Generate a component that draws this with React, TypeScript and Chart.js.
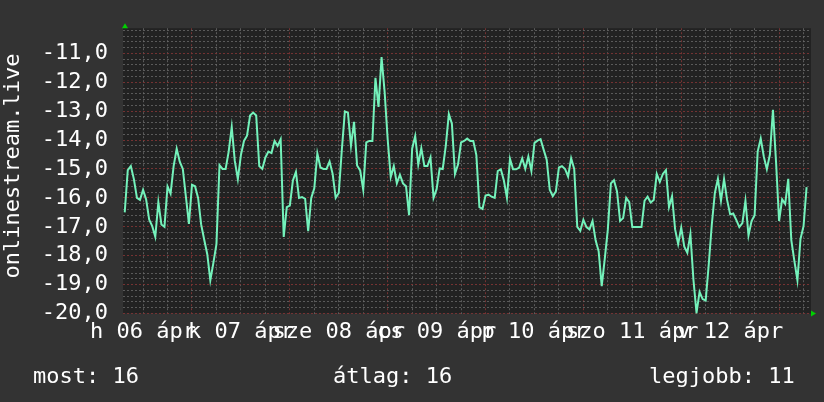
import React, { useEffect, useRef } from 'react';
import { Chart, registerables } from 'chart.js';

Chart.register(...registerables);

// Time axis in hours since Apr 06 00:00; one sample every 45 minutes
const startHour = 7.5;
const stepHours = 0.75;
const axisStartHour = 7.08;
const axisEndHour = 175.83;

// onlinestream.live values
const values: number[] = [
  -16.5, -15.04, -14.9, -15.35, -16.0, -16.07, -15.72, -16.05, -16.75, -16.98,
  -17.35, -16.15, -16.92, -17.0, -15.6, -15.85, -14.9, -14.3, -14.75, -15.0,
  -15.95, -16.9, -15.55, -15.6, -16.0, -16.92, -17.45, -17.95, -18.85, -18.25,
  -17.6, -14.87, -15.0, -15.0, -14.4, -13.55, -14.72, -15.35, -14.52, -14.03,
  -13.85, -13.15, -13.05, -13.15, -14.9, -15.0, -14.6, -14.4, -14.45, -14.03,
  -14.2, -13.97, -17.35, -16.32, -16.27, -15.4, -15.1, -16.0, -15.97, -16.03,
  -17.15, -16.0, -15.67, -14.46, -14.95, -15.0, -15.0, -14.74, -15.17, -16.0,
  -15.83, -14.35, -13.01, -13.05, -14.2, -13.37, -14.88, -15.05, -15.72, -14.08,
  -14.03, -14.03, -11.85, -12.85, -11.13, -12.33, -13.97, -15.28, -14.9, -15.5,
  -15.2, -15.5, -15.6, -16.6, -14.3, -13.86, -14.85, -14.28, -14.9, -14.9,
  -14.6, -16.0, -15.7, -14.98, -15.0, -14.2, -13.1, -13.43, -15.17, -14.85,
  -14.08, -14.03, -13.95, -14.03, -14.03, -14.52, -16.32, -16.38, -15.92, -15.89,
  -15.96, -16.0, -15.07, -15.01, -15.4, -16.0, -14.65, -15.01, -15.01, -14.95,
  -14.63, -15.0, -14.57, -15.07, -14.1, -14.02, -13.97, -14.33, -14.68, -15.72,
  -15.94, -15.78, -14.95, -14.9, -15.0, -15.26, -14.63, -15.0, -17.0, -17.14,
  -16.76, -17.01, -17.09, -16.8, -17.47, -17.85, -19.05, -18.1, -17.09, -15.5,
  -15.39, -15.78, -16.8, -16.7, -16.0, -16.15, -17.01, -17.01, -17.01, -17.01,
  -16.1, -15.96, -16.16, -16.07, -15.17, -15.45, -15.17, -15.04, -16.32, -15.94,
  -17.09, -17.6, -17.03, -17.69, -17.9, -17.25, -18.84, -19.98, -19.25, -19.5,
  -19.55, -18.3, -16.92, -15.83, -15.34, -16.1, -15.35, -16.07, -16.57, -16.54,
  -16.76, -17.01, -16.87, -16.1, -17.3, -16.8, -16.6, -14.4, -13.95, -14.57,
  -15.01, -14.5, -12.95, -14.74, -16.8, -16.05, -16.21, -15.34, -17.46, -18.18,
  -18.85, -17.42, -16.98, -15.63,
];

const dayLabels = ['h 06 ápr', 'k 07 ápr', 'sze 08 ápr', 'cs 09 ápr', 'p 10 ápr', 'szo 11 ápr', 'v 12 ápr'];
const dayNoonHours = [12, 36, 60, 84, 108, 132, 156];

const yMin = -20;
const yMax = -10.13;
const yStep = 0.2;
const xGridStepHours = 6;

const yTitle = 'onlinestream.live';
const legendTexts = ['most: 16', 'átlag: 16', 'legjobb: 11'];

const FONT = '"DejaVu Sans Mono", monospace';
const LINE_COLOR = '#74f2bb';
const MINOR_GRID = 'rgba(105,105,105,0.8)';
const MAJOR_GRID = 'rgba(125,52,52,0.9)';

export default function App() {
  const canvasRef = useRef<HTMLCanvasElement | null>(null);

  useEffect(() => {
    const canvas = canvasRef.current;
    if (!canvas) return;

    const bgPlugin = {
      id: 'rrdBg',
      beforeDraw(chart: any) {
        const { ctx, chartArea } = chart;
        ctx.save();
        ctx.fillStyle = '#333333';
        ctx.fillRect(0, 0, chart.width, chart.height);
        ctx.fillStyle = '#222222';
        ctx.fillRect(chartArea.left, chartArea.top, chartArea.right - chartArea.left, chartArea.bottom - chartArea.top);
        ctx.restore();
      },
    };

    const decorPlugin = {
      id: 'rrdDecor',
      afterDraw(chart: any) {
        const { ctx, chartArea } = chart;
        ctx.save();
        ctx.fillStyle = '#ffffff';
        ctx.font = `22px ${FONT}`;
        // y title
        ctx.save();
        ctx.translate(19, 166);
        ctx.rotate(-Math.PI / 2);
        ctx.textAlign = 'center';
        ctx.textBaseline = 'alphabetic';
        ctx.fillText(yTitle, 0, 0);
        ctx.restore();
        // legend
        ctx.textAlign = 'left';
        ctx.textBaseline = 'alphabetic';
        const lx = [33, 333, 649];
        legendTexts.forEach((t, i) => ctx.fillText(t, lx[i], 383));
        // arrows
        ctx.fillStyle = '#00d000';
        const L = chartArea.left;
        const T = chartArea.top;
        ctx.beginPath();
        ctx.moveTo(L - 1, T);
        ctx.lineTo(L + 5, T);
        ctx.lineTo(L + 2, T - 5);
        ctx.closePath();
        ctx.fill();
        const R = chartArea.right;
        const B = chartArea.bottom;
        ctx.beginPath();
        ctx.moveTo(R, B - 3);
        ctx.lineTo(R, B + 3);
        ctx.lineTo(R + 5, B);
        ctx.closePath();
        ctx.fill();
        ctx.restore();
      },
    };

    const chart = new Chart(canvas, {
      type: 'line',
      data: {
        datasets: [
          {
            data: values.map((v, i) => ({ x: startHour + i * stepHours, y: v })),
            borderColor: LINE_COLOR,
            borderWidth: 2,
            pointRadius: 0,
            tension: 0,
            fill: false,
          },
        ],
      },
      options: {
        animation: false,
        responsive: false,
        maintainAspectRatio: false,
        layout: { padding: { top: 13, right: 13, left: 0, bottom: 0 } },
        plugins: { legend: { display: false }, tooltip: { enabled: false }, title: { display: false } },
        scales: {
          x: {
            type: 'linear',
            min: axisStartHour,
            max: axisEndHour,
            afterBuildTicks: (scale: any) => {
              const t: any[] = [];
              for (let h = Math.ceil(axisStartHour / xGridStepHours) * xGridStepHours; h <= axisEndHour; h += xGridStepHours) {
                t.push({ value: h });
              }
              scale.ticks = t;
            },
            afterFit: (scale: any) => {
              scale.height = 88.5;
            },
            ticks: {
              autoSkip: false,
              maxRotation: 0,
              minRotation: 0,
              color: '#ffffff',
              padding: 6,
              font: { family: FONT, size: 22 },
              callback: (v: any) => {
                const idx = dayNoonHours.indexOf(Number(v));
                return idx >= 0 ? dayLabels[idx] : '';
              },
            },
            grid: {
              drawTicks: false,
              lineWidth: 1,
              color: (ctx: any) => (ctx.tick && ctx.tick.value % 24 === 0 ? MAJOR_GRID : MINOR_GRID),
            },
            border: { display: false, dash: [2, 2] },
          },
          y: {
            type: 'linear',
            min: yMin,
            max: yMax,
            afterBuildTicks: (scale: any) => {
              const t: any[] = [];
              for (let k = 0; yMin + k * yStep <= yMax + 1e-9; k++) {
                t.push({ value: Math.round((yMin + k * yStep) * 10) / 10 });
              }
              scale.ticks = t;
            },
            afterFit: (scale: any) => {
              scale.width = 123;
            },
            ticks: {
              autoSkip: false,
              color: '#ffffff',
              padding: 15,
              font: { family: FONT, size: 22 },
              callback: (v: any) => {
                const n = Number(v);
                if (Math.abs(n - Math.round(n)) > 1e-6) return '';
                return n.toFixed(1).replace('.', ',');
              },
            },
            grid: {
              drawTicks: false,
              lineWidth: 1,
              color: (ctx: any) => {
                const v = ctx.tick ? ctx.tick.value : 0.5;
                return Math.abs(v - Math.round(v)) < 1e-6 ? MAJOR_GRID : MINOR_GRID;
              },
            },
            border: { display: false, dash: [2, 2] },
          },
        },
      } as any,
      plugins: [bgPlugin, decorPlugin],
    });

    return () => chart.destroy();
  }, []);

  return (
    <div style={{ position: 'fixed', left: 0, top: 0, width: 824, height: 402, background: '#333333' }}>
      <canvas ref={canvasRef} width={824} height={402} style={{ display: 'block', width: 824, height: 402 }} />
    </div>
  );
}
